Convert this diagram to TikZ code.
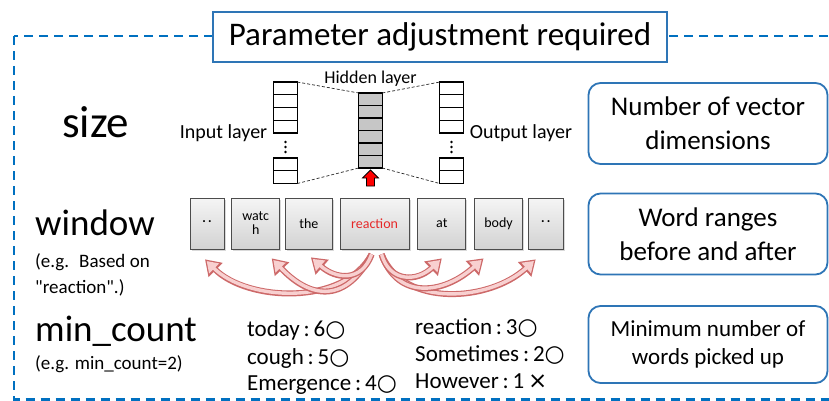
\documentclass[tikz,border=0pt]{standalone}
\usepackage{fontspec}
\setmainfont{Carlito}
\newfontfamily\markfont{DejaVu Sans}
\usetikzlibrary{positioning,shadows,arrows.meta}

\definecolor{frameblue}{RGB}{0,112,192}
\definecolor{boxblue}{RGB}{46,117,182}
\definecolor{flowedge}{RGB}{205,105,105}
\definecolor{flowfill}{RGB}{248,208,208}
\definecolor{wordred}{RGB}{230,40,40}

\newcommand{\okmark}{{\markfont ○}}
\newcommand{\ngmark}{{\markfont ×}}
\newcommand{\fsz}[2]{\fontsize{#1}{#2}\selectfont}

\begin{document}
\begin{tikzpicture}[
    x=1pt, y=-1pt,
    frame/.style={draw=frameblue, line width=2.4pt, dash pattern=on 9pt off 6pt},
    title/.style={draw=boxblue, fill=white, line width=1.8pt, minimum width=454pt,
      minimum height=50pt, font=\fsz{33}{36}},
    note/.style={draw=boxblue, fill=white, line width=1.8pt, rounded corners=12pt,
      minimum width=239pt, align=center},
    cell/.style={draw, line width=1.4pt, minimum width=23.5pt, minimum height=12.75pt,
      inner sep=0pt, outer sep=0pt},
    hcell/.style={cell, fill=gray!45, minimum height=12.5pt},
    link/.style={densely dashed, line width=0.7pt, gray!30!black},
    push/.style={fill=red, draw=black, line width=0.8pt, line join=miter},
    word/.style={draw=gray!60!black, line width=0.7pt, top color=gray!8, bottom color=gray!35,
      minimum height=51pt, inner sep=1pt, align=center, font=\fsz{14}{14},
      drop shadow={opacity=0.3, shadow xshift=1.5pt, shadow yshift=-1.5pt}},
    flow/.style={draw=flowedge, line width=6pt, -{Triangle[length=15pt,width=19pt]},
      postaction={draw=flowfill, line width=3.4pt, -{Triangle[length=10.5pt,width=13.5pt]}, shorten >=2.4pt}},
    txt/.style={inner sep=0pt, anchor=base west},
    layer/.style={font=\fsz{20}{22}},
    ]
    \useasboundingbox (0,0) rectangle (829,401);
    \clip (0,0) rectangle (829,401);

    % dashed frame and title
    \draw[frame] (14,36) rectangle (845,399.5);
    \node[title] (title) at (440,37) {Parameter adjustment required};

    % network layers
    \foreach \c/\x in {in/285.5, out/451.5} {
      \node[cell] (\c1) at (\x,88.4) {};
      \foreach \i [count=\j from 2] in {1,2,3}
        \node[cell, below=0pt of \c\i] (\c\j) {};
      \foreach \k in {0,1,2}
        \fill (\x,142+5*\k) circle (1.3pt);
      \node[cell] (\c5) at (\x,164.4) {};
      \node[cell, below=0pt of \c5] (\c6) {};
    }
    \node[hcell] (hid1) at (370.5,99.25) {};
    \foreach \i [count=\j from 2] in {1,...,5}
      \node[hcell, below=0pt of hid\i] (hid\j) {};
    % red arrow into the hidden layer
    \draw[push] ([yshift=-2pt]hid6.south) -- ++(8,8) -- ++(-4,0) -- ++(0,8)
      -- ++(-8,0) -- ++(0,-8) -- ++(-4,0) -- cycle;

    \draw[link] (in1.north east) -- (hid1.north west);
    \draw[link] (in6.south east) -- (hid6.south west);
    \draw[link] (hid1.north east) -- (out1.north west);
    \draw[link] (hid6.south east) -- (out6.south west);

    \node[font=\fsz{18}{20}, above=3pt of hid1] (hidlabel) {Hidden layer};
    \node[layer, left=3pt of in4.south west] (inlabel) {Input layer};
    \node[layer, right=3pt of out4.south east] (outlabel) {Output layer};

    % word window
    \node[word, minimum width=34pt] (w1) at (207,223.5) {·\,·};
    \node[word, minimum width=48pt, right=7pt of w1] (w2) {watc\\h};
    \node[word, minimum width=47pt, right=5pt of w2] (w3) {the};
    \node[word, minimum width=69pt, right=7pt of w3, text=wordred] (react) {reaction};
    \node[word, minimum width=48pt, right=8pt of react] (w5) {at};
    \node[word, minimum width=48pt, right=8pt of w5] (w6) {body};
    \node[word, minimum width=35pt, right=5pt of w6] (w7) {·\,·};

    % context arrows
    \draw[flow] ([xshift=-3pt,yshift=-5pt]react.south) .. controls +(-28,52) and +(42,42) .. ([xshift=-2pt,yshift=-10pt]w1.south);
    \draw[flow] ([xshift=7pt,yshift=-5pt]react.south) .. controls +(22,54) and +(-46,42) .. ([xshift=-10pt,yshift=-10pt]w7.south);
    \draw[flow] ([xshift=-3pt,yshift=-5pt]react.south) .. controls +(-25,48) and +(40,42) .. ([xshift=16pt,yshift=-9pt]w2.south);
    \draw[flow] ([xshift=7pt,yshift=-5pt]react.south) .. controls +(16,46) and +(-40,36) .. ([xshift=-15pt,yshift=-9pt]w6.south);
    \draw[flow] ([xshift=-3pt,yshift=-5pt]react.south) .. controls +(-10,28) and +(25,22) .. ([xshift=2pt,yshift=-8pt]w3.south);
    \draw[flow] ([xshift=7pt,yshift=-5pt]react.south) .. controls +(8,28) and +(-25,24) .. ([yshift=-9pt]w5.south);

    % parameter names
    \node[txt, font=\fsz{45}{48}] (size) at (62,137) {size};
    \node[txt, font=\fsz{37}{40}] (window) at (35,235) {window};
    \node[txt, font=\fsz{19}{22}] (hint1) at (35,267) {(e.g.~ Based on};
    \node[txt, font=\fsz{19}{22}] (hint2) at (35,293) {\textquotedbl reaction\textquotedbl.)};
    \node[txt, font=\fsz{37}{40}] (mincount) at (35,341) {min\_count};
    \node[txt, font=\fsz{19}{22}] (hint3) at (35,369) {(e.g. min\_count=2)};

    % word counts
    \node[txt, font=\fsz{23}{26}] (today) at (247,336) {today\,:\,6\okmark};
    \node[txt, font=\fsz{23}{26}] (cough) at (247,364) {cough\,:\,5\okmark};
    \node[txt, font=\fsz{23}{26}] (emerge) at (247,390) {Emergence\,:\,4\okmark};
    \node[txt, font=\fsz{23}{26}] (reaction) at (415,334) {reaction\,:\,3\okmark};
    \node[txt, font=\fsz{23}{26}] (sometimes) at (415,361) {Sometimes\,:\,2\okmark};
    \node[txt, font=\fsz{23}{26}] (however) at (415,388) {However\,:\,1\,\ngmark};

    % explanations
    \node[note, minimum height=81pt, font=\fsz{27}{34}] (sizenote) at (708,123.5)
      {Number of vector\\dimensions};
    \node[note, minimum height=81pt, font=\fsz{27}{34}] (windownote) at (708,234)
      {Word ranges\\before and after};
    \node[note, minimum height=77pt, font=\fsz{23}{28}] (countnote) at (708,344.5)
      {Minimum number of\\words picked up};
\end{tikzpicture}
\end{document}
